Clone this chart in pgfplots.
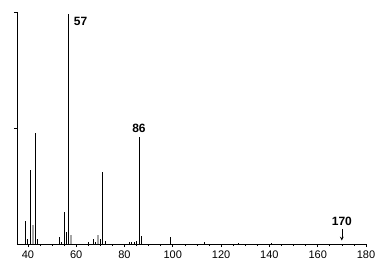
\documentclass[border=0pt]{standalone}
\usepackage{pgfplots}
\pgfplotsset{compat=1.18}
\usepackage{fontspec}
\setmainfont{Liberation Sans}
\begin{document}
\begin{tikzpicture}[x=1pt,y=1pt]
\path[use as bounding box] (-17,-24) rectangle (371,244);
\begin{axis}[
  scale only axis, width=349pt, height=232pt,
  at={(0,0)}, anchor=south west,
  xmin=35.5, xmax=180, ymin=0, ymax=100,
  axis lines*=left,
  axis line style={black, line width=0.9pt},
  xtick={40,60,...,180},
  minor x tick num=3,
  ytick={50,100}, yticklabels={},
  tick align=outside,
  major tick length=3pt, minor tick length=2pt,
  tick style={black, line width=0.6pt},
  ticklabel style={font=\fontsize{11}{12}\selectfont},
  xticklabel style={yshift=-0.5pt},
  /pgf/number format/assume math mode=true,
  clip=false,
]
\addplot[ycomb, black, line width=0.9pt, mark=none] coordinates {
 (39,10) (40,2) (41,32) (43,48) (44,2)
 (53,3) (54,1) (55,14) (56,5) (57,99)
 (65,0.8) (67,2) (68,1) (70,2) (71,31) (72,1.5)
 (82,0.8) (83,1) (84,1) (85,1.5) (86,46) (87,3.5)
 (99,3) (113,1) (127,0.5) (141,0.5)
};
\addplot[ycomb, gray!70, line width=2pt, mark=none] coordinates {
 (42,8) (58,4) (69,4)
};
\node[anchor=west, font=\fontsize{12}{13}\selectfont\bfseries] at (axis cs:57.6,96) {57};
\node[anchor=south, font=\fontsize{12}{13}\selectfont\bfseries] at (axis cs:86,46.5) {86};
\node[anchor=south, font=\fontsize{12}{13}\selectfont\bfseries] at (axis cs:170,6.5) {170};
\draw[-stealth, black, line width=0.7pt] (axis cs:170,6.5) -- (axis cs:170,1.5);
\end{axis}
\end{tikzpicture}
\end{document}
